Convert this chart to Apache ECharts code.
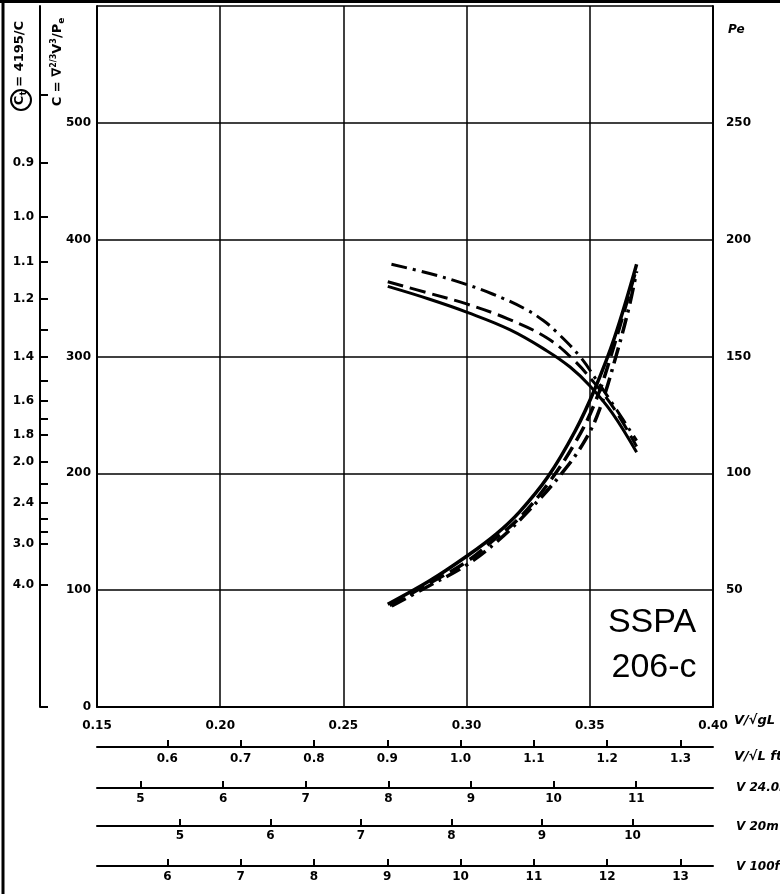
<!DOCTYPE html>
<html>
<head>
<meta charset="utf-8">
<script src="https://cdn.jsdelivr.net/npm/echarts@6/dist/echarts.min.js"></script>
<style>html,body{margin:0;padding:0;background:#fff}#chart{width:780px;height:894px}</style>
</head>
<body>
<div id="chart"></div>
<script>
// V/√gL ticks
const fnTicks = [0.15, 0.20, 0.25, 0.30, 0.35, 0.40];
// C curves (left axis), [Fn, C]
const cSolid = [[0.268,360],[0.285,349],[0.300,338],[0.3175,323],[0.3325,305],[0.342,291],[0.350,275],[0.359,252],[0.369,218]];
const cDashed = [[0.268,364],[0.285,354],[0.300,345],[0.317,332],[0.3325,316],[0.343,298],[0.352,277],[0.360,255],[0.369,223]];
const cDashDot = [[0.2695,379],[0.285,371],[0.298,363],[0.3105,353.5],[0.3235,341],[0.331,331],[0.3365,321],[0.346,300],[0.353,279],[0.361,254],[0.369,228]];
// Pe curves (right axis), [Fn, Pe]
const peSolid = [[0.268,44],[0.285,54],[0.300,64.5],[0.312,74],[0.3215,83.5],[0.333,98.5],[0.344,118],[0.352,136],[0.360,158],[0.369,189.5]];
const peDashed = [[0.2688,43.5],[0.285,53],[0.300,62.2],[0.311,71.5],[0.3215,81],[0.333,95.5],[0.344,113],[0.352,130],[0.3585,150],[0.369,188]];
const peDashDot = [[0.2696,43.2],[0.285,52],[0.300,60.8],[0.3125,71],[0.3245,83.2],[0.339,100.5],[0.348,114],[0.354,127.5],[0.361,151.5],[0.366,171.5],[0.369,186.5]];
// Ct scale: Ct = 419.5 / C
const CT_K = 419.5;
const ctLabels = [0.9, 1.0, 1.1, 1.2, 1.4, 1.6, 1.8, 2.0, 2.4, 3.0, 4.0];
const ctMinor = [0.8, 1.3, 1.5, 1.7, 2.2, 2.6, 2.8];
// speed scales below the x axis
const vlTicks = [0.6, 0.7, 0.8, 0.9, 1.0, 1.1, 1.2, 1.3];
const v24Ticks = [5, 6, 7, 8, 9, 10, 11];
const v20Ticks = [5, 6, 7, 8, 9, 10];
const v100Ticks = [6, 7, 8, 9, 10, 11, 12, 13];
// Fn -> scale unit factors
const K_VL = 3.3607, K_V24 = 29.823, K_V20 = 27.224, K_V100 = 33.607;

const font = 'DejaVu Sans';
const lbl = {color: '#000', fontFamily: font, fontWeight: 'bold', fontSize: 12};
const blackLine = {color: '#000', width: 2};

function scaleAxis(gi, k, ticks, margin, dec) {
  return {
    type: 'value', gridIndex: gi, min: 0.15 * k, max: 0.40 * k,
    axisLine: {lineStyle: blackLine},
    axisTick: {inside: true, length: 7, customValues: ticks, lineStyle: blackLine},
    axisLabel: Object.assign({customValues: ticks, margin: margin, formatter: v => v.toFixed(dec)}, lbl),
    splitLine: {show: false}
  };
}

function curve(data, yIdx, dash, width) {
  return {
    type: 'line', xAxisIndex: 0, yAxisIndex: yIdx, data: data, smooth: 0.4,
    symbol: 'none', silent: true,
    lineStyle: {color: '#000', width: width, type: dash}
  };
}

const dashed = [16, 7];
const dashDot = [16, 6, 3, 6];

const chart = echarts.init(document.getElementById('chart'));
chart.setOption({
  animation: false,
  backgroundColor: '#fff',
  grid: [
    {left: 97, right: 67, top: 6, bottom: 187},
    {left: 97, right: 67, top: 746, height: 1},
    {left: 97, right: 67, top: 787, height: 1},
    {left: 97, right: 67, top: 825, height: 1},
    {left: 97, right: 67, top: 865, height: 1}
  ],
  xAxis: [
    {
      type: 'value', gridIndex: 0, min: 0.15, max: 0.40, interval: 0.05,
      axisLine: {lineStyle: blackLine},
      axisTick: {show: false},
      axisLabel: Object.assign({customValues: fnTicks, margin: 13, formatter: v => v.toFixed(2)}, lbl),
      splitLine: {lineStyle: {color: '#000', width: 1.5}}
    },
    scaleAxis(1, K_VL, vlTicks, 6, 1),
    scaleAxis(2, K_V24, v24Ticks, 5, 0),
    scaleAxis(3, K_V20, v20Ticks, 4, 0),
    scaleAxis(4, K_V100, v100Ticks, 5, 0)
  ],
  yAxis: [
    {
      type: 'value', gridIndex: 0, position: 'left', min: 0, max: 600, interval: 100,
      axisLine: {show: true, lineStyle: blackLine},
      axisTick: {show: false},
      axisLabel: Object.assign({margin: 6, formatter: v => v === 600 ? '' : v}, lbl),
      splitLine: {lineStyle: {color: '#000', width: 1.5}}
    },
    {
      type: 'value', gridIndex: 0, position: 'right', min: 0, max: 300, interval: 50,
      axisLine: {show: true, lineStyle: blackLine},
      axisTick: {show: false},
      axisLabel: Object.assign({margin: 13, formatter: v => (v === 0 || v === 300) ? '' : v}, lbl),
      splitLine: {show: false}
    },
    {
      type: 'value', gridIndex: 0, position: 'left', offset: 57, min: 0, max: 600,
      axisLine: {show: true, lineStyle: blackLine},
      axisTick: {inside: true, length: 8, lineStyle: blackLine,
        customValues: [0].concat(ctLabels.concat(ctMinor).map(t => CT_K / t))},
      axisLabel: Object.assign({margin: 6, customValues: ctLabels.map(t => CT_K / t),
        formatter: v => (CT_K / v).toFixed(1)}, lbl),
      splitLine: {show: false}
    },
    {gridIndex: 1, show: false},
    {gridIndex: 2, show: false},
    {gridIndex: 3, show: false},
    {gridIndex: 4, show: false}
  ],
  series: [
    curve(cSolid, 0, 'solid', 3),
    curve(cDashed, 0, dashed, 3),
    curve(cDashDot, 0, dashDot, 3),
    curve(peSolid, 1, 'solid', 3.5),
    curve(peDashed, 1, dashed, 3.5),
    curve(peDashDot, 1, dashDot, 3.5)
  ],
  graphic: [
    {type: 'line', shape: {x1: 3, y1: 0, x2: 3, y2: 894}, style: {stroke: '#000', lineWidth: 3}},
    {type: 'line', shape: {x1: 0, y1: 1.5, x2: 780, y2: 1.5}, style: {stroke: '#000', lineWidth: 3}},
    {type: 'text', x: 20, y: 63, rotation: Math.PI / 2,
      style: {text: '{m|C}{s|t}{m| = 4195/C}', align: 'center', verticalAlign: 'middle',
        rich: {m: {fontFamily: font, fontWeight: 'bold', fontSize: 13, fill: '#000'},
               s: {fontFamily: font, fontWeight: 'bold', fontSize: 9, fill: '#000', padding: [8, 0, 0, 0]}}}},
    {type: 'circle', shape: {cx: 21, cy: 100, r: 10}, style: {fill: 'none', stroke: '#000', lineWidth: 2}},
    {type: 'text', x: 58, y: 62, rotation: Math.PI / 2,
      style: {text: '{m|C = ∇}{p|2/3}{m|V}{p|3}{m|/P}{s|e}', align: 'center', verticalAlign: 'middle',
        rich: {m: {fontFamily: font, fontWeight: 'bold', fontSize: 13, fill: '#000'},
               p: {fontFamily: font, fontWeight: 'bold', fontSize: 8, fill: '#000', padding: [0, 0, 8, 0]},
               s: {fontFamily: font, fontWeight: 'bold', fontSize: 9, fill: '#000', padding: [8, 0, 0, 0]}}}},
    {type: 'text', x: 728, y: 30, style: {text: 'Pe', font: 'italic bold 12px DejaVu Sans', fill: '#000', verticalAlign: 'middle'}},
    {type: 'text', x: 652, y: 623, style: {text: 'SSPA', font: '34px "Liberation Sans"', fill: '#000', align: 'center', verticalAlign: 'middle'}},
    {type: 'text', x: 654, y: 668, style: {text: '206-c', font: '34px "Liberation Sans"', fill: '#000', align: 'center', verticalAlign: 'middle'}},
    {type: 'text', x: 734, y: 721, style: {text: 'V/√gL', font: 'italic bold 13px DejaVu Sans', fill: '#000', verticalAlign: 'middle'}},
    {type: 'text', x: 734, y: 757, style: {text: 'V/√L ft.', font: 'italic bold 13px DejaVu Sans', fill: '#000', verticalAlign: 'middle'}},
    {type: 'text', x: 736, y: 788, style: {text: 'V 24.0m', font: 'italic bold 12px DejaVu Sans', fill: '#000', verticalAlign: 'middle'}},
    {type: 'text', x: 736, y: 827, style: {text: 'V 20m', font: 'italic bold 12px DejaVu Sans', fill: '#000', verticalAlign: 'middle'}},
    {type: 'text', x: 736, y: 867, style: {text: 'V 100ft', font: 'italic bold 12px DejaVu Sans', fill: '#000', verticalAlign: 'middle'}}
  ]
});
</script>
</body>
</html>
